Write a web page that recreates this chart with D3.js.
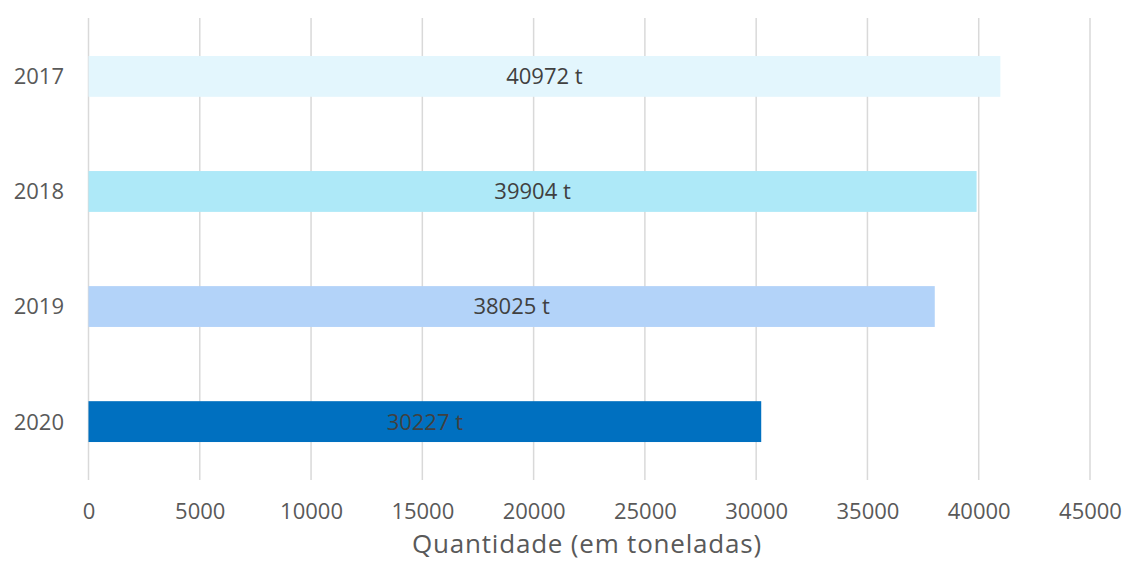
<!DOCTYPE html>
<html><head><meta charset="utf-8">
<script src="https://cdn.jsdelivr.net/npm/d3@7"></script>
<style>body{margin:0;background:#fff;}svg{display:block;}</style>
</head><body>
<svg id="c" width="1125" height="563"></svg>
<script>
const years = ["2017", "2018", "2019", "2020"];
const values = [40972, 39904, 38025, 30227];
const colors = ["#E3F6FD", "#AEE9F8", "#B3D3F9", "#0070C0"];
const tickValues = [0, 5000, 10000, 15000, 20000, 25000, 30000, 35000, 40000, 45000];
const axisTitle = "Quantidade (em toneladas)";
const unit = " t";

const svg = d3.select("#c");
const font = "'Open Sans', 'DejaVu Sans', sans-serif";
const x = d3.scaleLinear().domain([0, 45000]).range([88.5, 1090]);
const y = d3.scaleBand().domain(years).range([18, 480]).paddingInner(0.645).paddingOuter(0.33);

// gridlines
svg.append("g").selectAll("line").data(tickValues).join("line")
  .attr("x1", d => x(d)).attr("x2", d => x(d))
  .attr("y1", 18).attr("y2", 480)
  .attr("stroke", "#d9d9d9").attr("stroke-width", 1.5);

// bars
const data = years.map((yr, i) => ({yr, v: values[i], c: colors[i]}));
svg.append("g").selectAll("rect").data(data).join("rect")
  .attr("x", x(0)).attr("y", d => y(d.yr))
  .attr("width", d => x(d.v) - x(0)).attr("height", y.bandwidth())
  .attr("fill", d => d.c);

// value labels
svg.append("g").selectAll("text").data(data).join("text")
  .attr("x", d => (x(0) + x(d.v)) / 2).attr("y", d => y(d.yr) + y.bandwidth() / 2)
  .attr("dy", "0.36em").attr("text-anchor", "middle")
  .attr("font-family", font).attr("font-size", 22)
  .attr("fill", "#404040")
  .text(d => d.v + unit);

// y axis labels
svg.append("g").selectAll("text").data(years).join("text")
  .attr("x", 64).attr("y", d => y(d) + y.bandwidth() / 2)
  .attr("dy", "0.36em").attr("text-anchor", "end")
  .attr("font-family", font).attr("font-size", 22)
  .attr("fill", "#595959")
  .text(d => d);

// x axis
const xAxis = d3.axisBottom(x).tickValues(tickValues).tickSize(0).tickPadding(0).tickFormat(d => String(d));
const gx = svg.append("g").attr("transform", "translate(0,503)").call(xAxis);
gx.select(".domain").remove();
gx.selectAll("text").attr("font-family", font).attr("font-size", 22)
  .attr("fill", "#595959");

svg.append("text").attr("x", 587).attr("y", 553)
  .attr("text-anchor", "middle").attr("font-family", font).attr("font-size", 26)
  .attr("fill", "#595959").attr("letter-spacing", 0.8).text(axisTitle);
</script>
</body></html>
